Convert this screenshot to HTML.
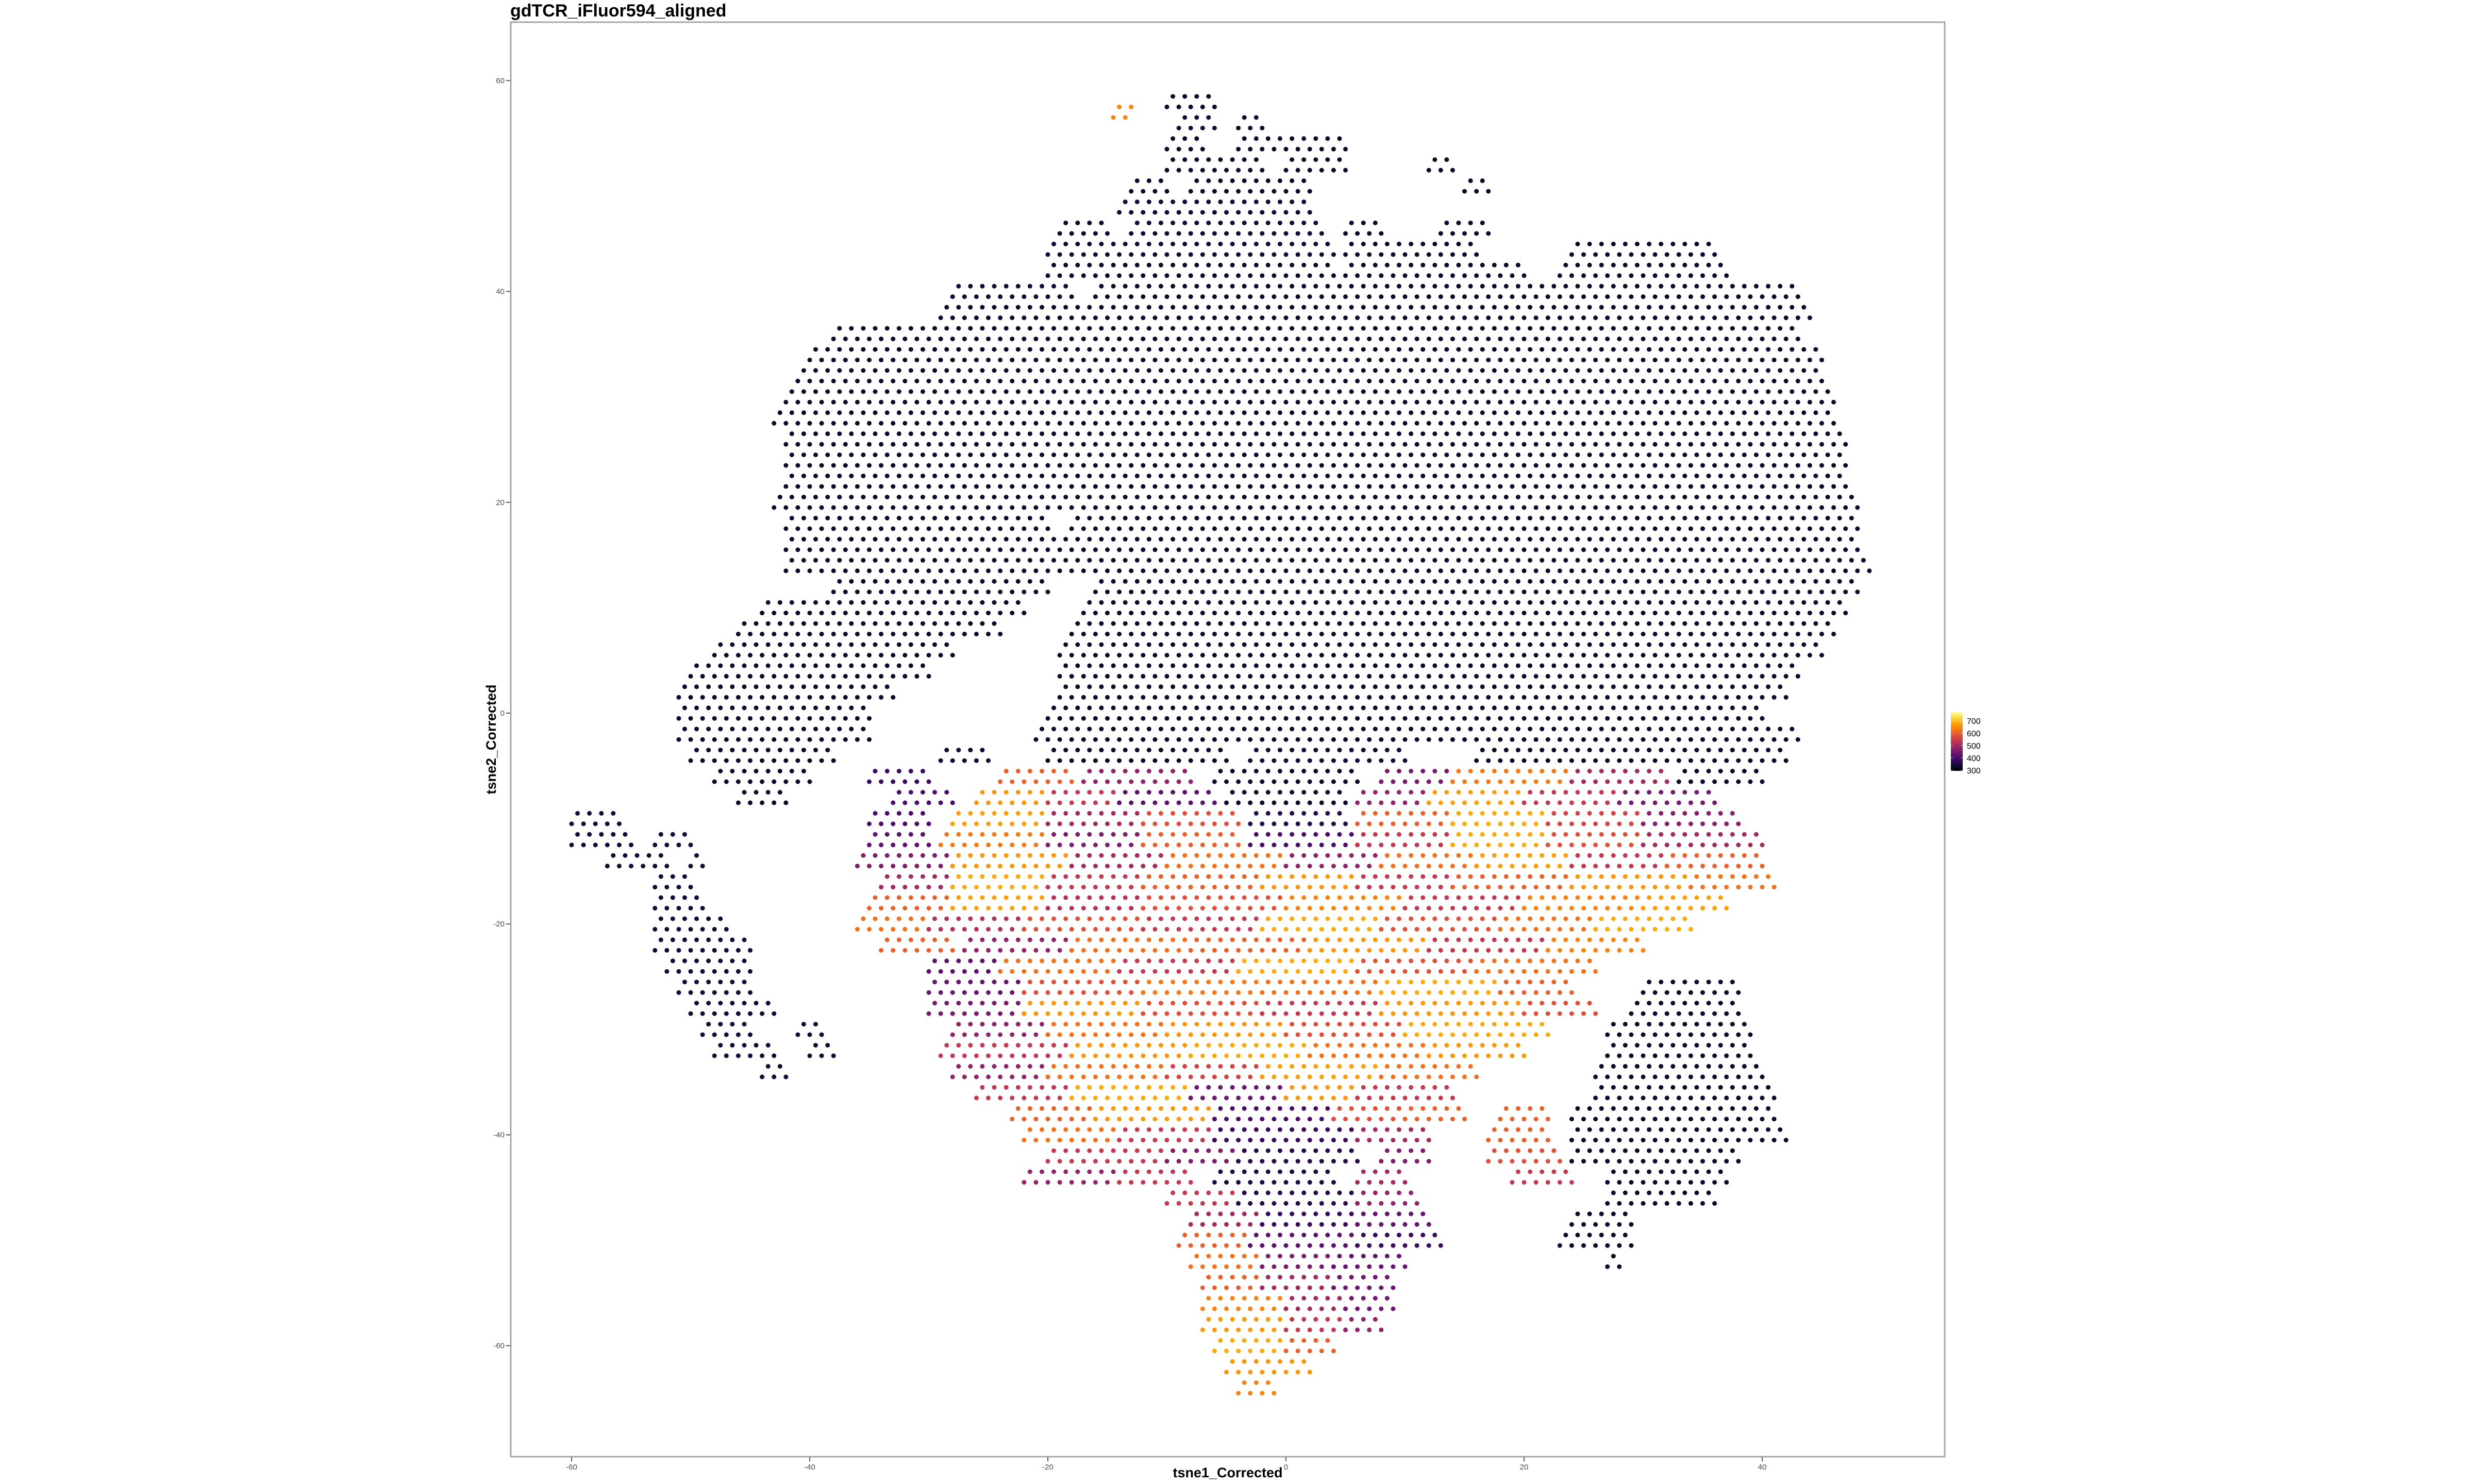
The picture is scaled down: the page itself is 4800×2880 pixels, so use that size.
<!DOCTYPE html>
<html><head><meta charset="utf-8"><style>
html,body{margin:0;padding:0;background:#fff}
svg{display:block;font-family:"Liberation Sans",sans-serif}
</style></head><body>
<svg id="chart" width="4800" height="2880" viewBox="0 0 4800 2880" xmlns="http://www.w3.org/2000/svg">
<rect width="4800" height="2880" fill="#fff"/>
<text x="990" y="32" font-size="34" font-weight="bold" fill="#000">gdTCR_iFluor594_aligned</text>
<g id="points"></g>
<rect x="991" y="43" width="2782" height="2784" fill="none" stroke="#a6a6a6" stroke-width="3"/>
<g id="xaxis"></g>
<g id="yaxis"></g>
<text x="2382" y="2867" font-size="27" font-weight="bold" text-anchor="middle">tsne1_Corrected</text>
<text transform="translate(962,1435) rotate(-90)" font-size="27" font-weight="bold" text-anchor="middle">tsne2_Corrected</text>
<defs><linearGradient id="inf" x1="0" y1="1" x2="0" y2="0">
<stop offset="0" stop-color="#000004"/><stop offset="0.1" stop-color="#160b39"/><stop offset="0.2" stop-color="#420a68"/><stop offset="0.3" stop-color="#6a176e"/><stop offset="0.4" stop-color="#932667"/><stop offset="0.5" stop-color="#bc3754"/><stop offset="0.6" stop-color="#dd513a"/><stop offset="0.7" stop-color="#f37819"/><stop offset="0.8" stop-color="#fca50a"/><stop offset="0.9" stop-color="#f6d746"/><stop offset="1" stop-color="#fcffa4"/>
</linearGradient></defs>
<g id="legend"></g>
</svg>
<script>
const xTicks=[-60,-40,-20,0,20,40];
const yTicks=[-60,-40,-20,0,20,40,60];
const legendTicks=[300,400,500,600,700];
const legendMin=295, legendMax=770;
const segY=[];const segX0=[];const segX1=[];const segV=[];
const rows=[
[58,[[-10,-6,330]]],[57,[[-14.5,-13,640]]],
[56,[[-9,-6,340],[-4,-2,330]]],
[54,[[-10,-7,330],[-4,5,330]]],
[52,[[-10,-2,330],[0,5,330],[12,14,330]]],
[50,[[-13,-10,330],[-8,2,330],[15,17,330]]],
[48,[[-14,2,340]]],
[46,[[-19,-15,330],[-13,3,340],[5,8,330],[13,17,330]]],
[44,[[-20,4,340],[5,16,330],[24,36,330]]],
[42,[[-20,4,330],[5,20,330],[23,37,330]]],
[40,[[-28,-18,340],[-16,43,330]]],
[38,[[-29,44,330]]],[36,[[-38,43,330]]],[34,[[-40,45,330]]],[32,[[-41,45,330]]],
[30,[[-42,46,330]]],[28,[[-43,46,330]]],[26,[[-42,47,330]]],[24,[[-42,47,330]]],
[22,[[-42,47,330]]],[20,[[-43,48,330]]],[18,[[-42,-20,330],[-18,48,330]]],
[16,[[-42,48,330]]],[14,[[-42,49,330]]],[12,[[-38,-20,330],[-16,48,330]]],
[10,[[-44,-22,330],[-17,47,330]]],[8,[[-46,-24,330],[-18,46,330]]],
[6,[[-48,-28,330],[-19,45,330]]],[4,[[-50,-30,330],[-19,43,330]]],
[2,[[-51,-33,330],[-19,42,330]]],[0,[[-51,-35,330],[-20,40,330]]],
[-2,[[-51,-35,330],[-21,43,330]]],
[-4,[[-50,-38,330],[-29,-25,340],[-20,-5,330],[-3,10,340],[16,42,330]]],
[-6,[[-48,-40,330],[-35,-30,380],[-24,-18,600],[-17,-8,480],[-6,6,330],[8,14,450],[14,24,630],[24,32,500],[33,40,330]]],
[-8,[[-46,-42,330],[-33,-28,400],[-26,-20,660],[-20,-14,540],[-14,-6,420],[-5,5,330],[6,12,480],[12,20,670],[20,28,540],[28,36,450]]],
[-10,[[-60,-56,340],[-35,-30,400],[-28,-20,670],[-20,-12,500],[-12,-4,580],[-3,5,360],[6,14,600],[14,22,680],[22,30,560],[30,38,470]]],
[-12,[[-60,-55,340],[-53,-50,340],[-35,-30,420],[-29,-20,630],[-20,-12,460],[-12,-4,600],[-3,6,400],[6,14,540],[14,22,680],[22,30,580],[30,40,500]]],
[-14,[[-57,-52,340],[-50,-49,340],[-36,-28,460],[-28,-18,660],[-18,-10,500],[-10,0,620],[0,8,480],[8,16,620],[16,24,670],[24,32,540],[32,40,600]]],
[-16,[[-53,-50,340],[-34,-28,500],[-28,-20,680],[-20,-12,540],[-12,-2,600],[-2,6,660],[6,14,540],[14,24,600],[24,34,660],[34,41,620]]],
[-18,[[-53,-49,340],[-35,-28,600],[-28,-20,670],[-20,-12,520],[-12,0,580],[0,10,640],[10,20,540],[20,30,640],[30,37,670]]],
[-20,[[-53,-47,340],[-36,-30,620],[-30,-22,520],[-22,-12,580],[-12,-2,540],[-2,8,680],[8,18,580],[18,26,620],[26,34,680]]],
[-22,[[-53,-45,340],[-34,-28,600],[-27,-18,480],[-18,-8,620],[-8,2,600],[2,12,660],[12,22,540],[22,30,640]]],
[-24,[[-52,-45,340],[-30,-24,420],[-24,-14,620],[-14,-4,540],[-4,6,680],[6,16,580],[16,26,620]]],
[-26,[[-51,-45,340],[-30,-22,430],[-22,-12,580],[-12,-2,630],[-2,8,620],[8,18,680],[18,24,600],[30,38,330]]],
[-28,[[-50,-43,340],[-30,-22,450],[-22,-12,660],[-12,-2,580],[-2,8,540],[8,20,660],[20,26,580],[29,38,330]]],
[-30,[[-49,-45,340],[-41,-39,340],[-28,-20,480],[-20,-10,620],[-10,0,660],[0,10,580],[10,22,680],[27,39,330]]],
[-32,[[-48,-43,340],[-40,-38,340],[-29,-18,540],[-18,-8,660],[-8,2,680],[2,12,620],[12,20,660],[27,39,330]]],
[-34,[[-44,-42,340],[-28,-20,480],[-20,-10,620],[-10,-2,560],[-2,8,670],[8,16,620],[26,40,330]]],
[-36,[[-26,-18,540],[-18,-8,680],[-8,0,440],[0,6,660],[6,14,540],[26,41,330]]],
[-38,[[-23,-16,600],[-16,-6,660],[-6,4,400],[4,10,580],[10,15,600],[18,22,600],[24,41,330]]],
[-40,[[-22,-14,620],[-14,-6,540],[-6,6,380],[6,12,500],[17,22,600],[24,42,330]]],
[-42,[[-20,-10,540],[-10,-4,460],[-4,6,360],[8,12,460],[17,23,580],[24,38,330]]],
[-44,[[-22,-14,480],[-14,-8,540],[-6,4,350],[6,10,500],[19,24,540],[27,37,330]]],
[-46,[[-10,-4,540],[-4,6,360],[6,11,480],[27,36,330]]],
[-48,[[-8,-2,500],[-2,6,380],[6,12,430],[24,29,330]]],
[-50,[[-9,-3,600],[-3,6,420],[6,13,380],[23,29,330]]],
[-52,[[-8,-2,620],[-2,4,460],[4,10,430],[27,28,330]]],
[-54,[[-7,-2,600],[-2,4,500],[4,9,440]]],
[-56,[[-7,0,640],[0,5,500],[5,9,440]]],
[-58,[[-7,0,660],[0,5,540],[5,8,480]]],
[-60,[[-6,0,680],[0,4,600]]],
[-62,[[-5,2,660]]],
[-64,[[-4,-1,640]]]
];
rows.forEach(r=>r[1].forEach(s=>{segY.push(r[0]);segX0.push(s[0]);segX1.push(s[1]);segV.push(s[2]);}));

const NS="http://www.w3.org/2000/svg";
const xScale=v=>2495+v*23.1;
const yScale=v=>1384-v*20.46;
const stops=["#000004","#160b39","#420a68","#6a176e","#932667","#bc3754","#dd513a","#f37819","#fca50a","#f6d746","#fcffa4"];
function hex(c){return [1,3,5].map(i=>parseInt(c.substr(i,2),16));}
function color(v){let t=(v-legendMin)/(legendMax-legendMin);t=Math.max(0,Math.min(1,t))*10;
 const i=Math.min(9,Math.floor(t)),f=t-i;const a=hex(stops[i]),b=hex(stops[i+1]);
 return "rgb("+a.map((x,k)=>Math.round(x+(b[k]-x)*f)).join(",")+")";}
const pg=document.getElementById("points");
for(let s=0;s<segY.length;s++){
 const col=color(segV[s]);
 [[-0.5,0],[0.5,0.5]].forEach(([dy,dx])=>{
  for(let x=segX0[s]+dx;x<=segX1[s]+0.01;x+=1){
   const c=document.createElementNS(NS,"circle");
   c.setAttribute("cx",xScale(x).toFixed(1));c.setAttribute("cy",yScale(segY[s]+dy).toFixed(1));
   c.setAttribute("r","4.5");c.setAttribute("fill",col);
   
   
   pg.appendChild(c);
  }});
}
const xa=document.getElementById("xaxis");
xTicks.forEach(t=>{const x=xScale(t);
 const l=document.createElementNS(NS,"line");l.setAttribute("x1",x);l.setAttribute("x2",x);l.setAttribute("y1",2828);l.setAttribute("y2",2836);l.setAttribute("stroke","#555");l.setAttribute("stroke-width","2");
 
 
 xa.appendChild(l);
 const tx=document.createElementNS(NS,"text");tx.setAttribute("x",x);tx.setAttribute("y",2852);tx.setAttribute("font-size","15");tx.setAttribute("fill","#4d4d4d");tx.setAttribute("text-anchor","middle");tx.textContent=t;
 
 
 xa.appendChild(tx);});
const ya=document.getElementById("yaxis");
yTicks.forEach(t=>{const y=yScale(t);
 const l=document.createElementNS(NS,"line");l.setAttribute("x1",982);l.setAttribute("x2",990);l.setAttribute("y1",y);l.setAttribute("y2",y);l.setAttribute("stroke","#555");l.setAttribute("stroke-width","2");
 
 
 ya.appendChild(l);
 const tx=document.createElementNS(NS,"text");tx.setAttribute("x",979);tx.setAttribute("y",y+5);tx.setAttribute("font-size","15");tx.setAttribute("fill","#4d4d4d");tx.setAttribute("text-anchor","end");tx.textContent=t;
 
 
 ya.appendChild(tx);});
const lg=document.getElementById("legend");
const lScale=v=>1496-(v-legendMin)*(114/(legendMax-legendMin));
const bar=document.createElementNS(NS,"rect");bar.setAttribute("x",3785);bar.setAttribute("y",1382);bar.setAttribute("width",23);bar.setAttribute("height",114);bar.setAttribute("fill","url(#inf)");


lg.appendChild(bar);
legendTicks.forEach(t=>{const y=lScale(t);
 [3785,3804].forEach(x0=>{const l=document.createElementNS(NS,"line");l.setAttribute("x1",x0);l.setAttribute("x2",x0+4);l.setAttribute("y1",y);l.setAttribute("y2",y);l.setAttribute("stroke","#fff");l.setAttribute("stroke-opacity","0.6");
 
 
 lg.appendChild(l);});
 const tx=document.createElementNS(NS,"text");tx.setAttribute("x",3816);tx.setAttribute("y",y+6);tx.setAttribute("font-size","16");tx.setAttribute("fill","#000");tx.textContent=t;
 
 
 lg.appendChild(tx);});
</script>
</body></html>
